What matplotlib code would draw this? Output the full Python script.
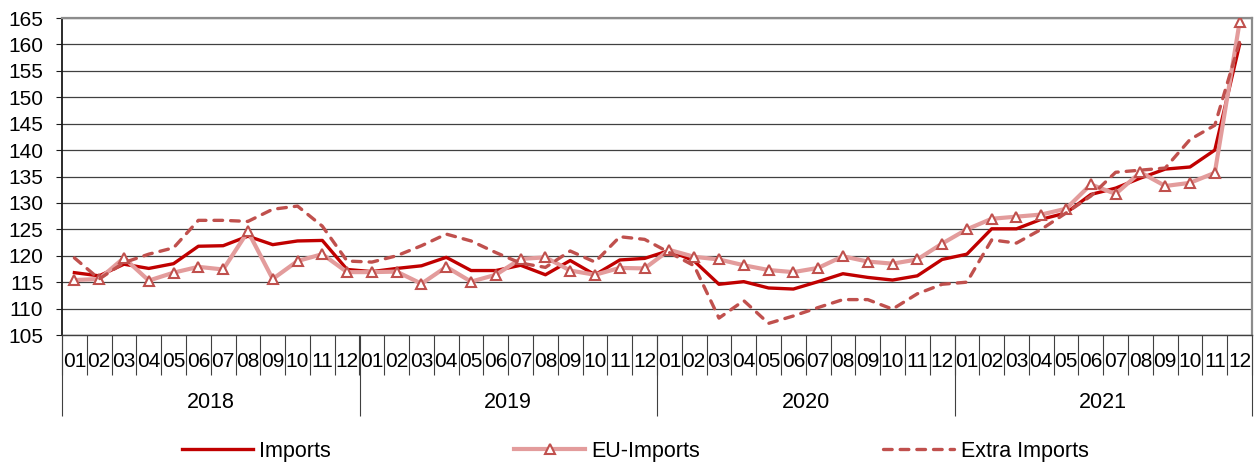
import matplotlib.pyplot as plt
import matplotlib.transforms as mtransforms
import numpy as np

plt.rcParams['font.family'] = ['Liberation Sans', 'DejaVu Sans']

# Monatswerte 2018-2021
years = ['2018', '2019', '2020', '2021']
months = ['01', '02', '03', '04', '05', '06', '07', '08', '09', '10', '11', '12']

imports = [116.8, 116.2, 118.4, 117.6, 118.5, 121.8, 121.9, 123.7, 122.1, 122.8, 122.9, 117.4,
           117.0, 117.6, 118.1, 119.7, 117.2, 117.2, 118.2, 116.4, 119.1, 116.4, 119.2, 119.5,
           121.0, 119.0, 114.6, 115.1, 113.9, 113.7, 115.1, 116.6, 115.9, 115.4, 116.2, 119.3,
           120.3, 125.1, 125.1, 126.9, 128.1, 131.6, 132.8, 134.7, 136.4, 136.8, 140.0, 160.0]
eu_imports = [115.4, 115.6, 119.6, 115.3, 116.8, 117.9, 117.4, 124.6, 115.6, 119.0, 120.3, 116.9,
              116.9, 117.0, 114.7, 117.9, 115.1, 116.4, 119.4, 119.7, 117.2, 116.4, 117.7, 117.6,
              121.1, 119.8, 119.3, 118.2, 117.3, 116.9, 117.7, 119.9, 118.9, 118.5, 119.3, 122.3,
              125.0, 127.0, 127.4, 127.8, 128.9, 133.5, 131.7, 135.8, 133.2, 133.8, 135.7, 164.2]
extra_imports = [119.6, 115.6, 118.7, 120.3, 121.5, 126.7, 126.7, 126.5, 128.8, 129.4, 125.6, 119.0,
                 118.8, 120.0, 121.9, 124.1, 122.8, 120.6, 118.6, 117.8, 120.9, 118.8, 123.6, 123.1,
                 120.6, 118.1, 108.2, 111.5, 107.2, 108.6, 110.2, 111.7, 111.7, 109.9, 112.8, 114.6,
                 115.0, 123.0, 122.4, 125.0, 128.1, 131.3, 135.8, 136.2, 136.6, 142.0, 144.7, 160.5]

n = len(imports)
x = np.arange(n)

fig = plt.figure(figsize=(12.58, 4.65), dpi=100)
ax = fig.add_axes([62 / 1258, 130 / 465, 1190 / 1258, 317 / 465])

ax.plot(x, imports, color='#C00000', lw=2.4, label='Imports', zorder=3)
ax.plot(x, eu_imports, color='#E39C9C', lw=3.0, marker='^', markersize=7.5,
        markerfacecolor='white', markeredgecolor='#C0504D', markeredgewidth=1.5,
        label='EU-Imports', zorder=4)
ax.plot(x, extra_imports, color='#C0504D', lw=2.4, dashes=(2.6, 2.4),
        dash_capstyle='round', label='Extra Imports', zorder=5)

ax.set_ylim(105, 165)
ax.set_yticks(np.arange(105, 166, 5))
ax.set_xlim(-0.5, n - 0.5)
ax.yaxis.grid(True, color='#404040', lw=0.9)
ax.set_axisbelow(True)

# spines
ax.spines['left'].set_color('#1a1a1a')
ax.spines['left'].set_linewidth(1.3)
ax.spines['bottom'].set_color('#404040')
ax.spines['bottom'].set_linewidth(1.0)
for s in ['top', 'right']:
    ax.spines[s].set_color('#8c8c8c')
    ax.spines[s].set_linewidth(1.6)

ax.tick_params(axis='y', labelsize=15, length=4.5, pad=9, color='#1a1a1a')

# x-Achse: Monate
ax.set_xticks(np.arange(-0.5, n, 1))
ax.set_xticklabels([])
ax.tick_params(axis='x', which='major', length=29, width=0.8, color='#404040')
ax.set_xticks(x, minor=True)
ax.set_xticklabels(months * len(years), minor=True)
ax.tick_params(axis='x', which='minor', length=0, pad=12, labelsize=15)

# x-Achse: Jahre
sec = ax.secondary_xaxis('bottom')
sec.set_xticks(np.arange(-0.5, n, 12))
sec.set_xticklabels([])
sec.tick_params(axis='x', length=58, width=0.8, color='#404040')
sec.spines['bottom'].set_visible(False)

trans = mtransforms.blended_transform_factory(ax.transData, ax.transAxes)
for i, yr in enumerate(years):
    ax.text(i * 12 + 5.5, -67 / 317, yr, transform=trans, ha='center', va='center', fontsize=15.5)

fig.legend(loc='center', bbox_to_anchor=(0.505, 0.03), ncol=3, frameon=False,
           fontsize=15.5, handlelength=3.3, handletextpad=0.3, columnspacing=8.5)

fig.savefig('out.png', dpi=100)
